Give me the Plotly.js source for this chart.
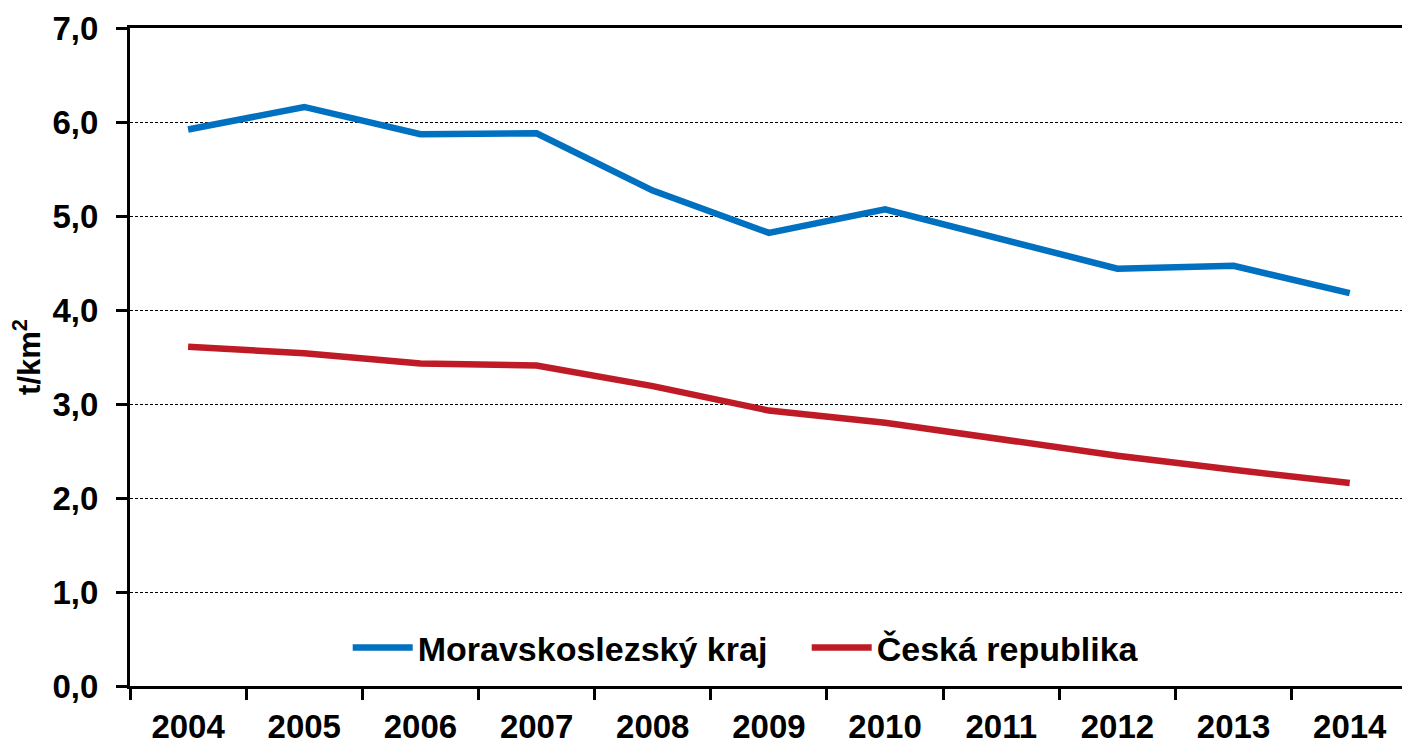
<!DOCTYPE html>
<html>
<head>
<meta charset="utf-8">
<script src="https://cdn.plot.ly/plotly-3.0.1.min.js"></script>
<style>html,body{margin:0;padding:0;background:#fff;}#chart{width:1402px;height:746px;}</style>
</head>
<body>
<div id="chart"></div>
<script>
var years = ["2004","2005","2006","2007","2008","2009","2010","2011","2012","2013","2014"];
var moravskoslezsky = [5.92, 6.16, 5.87, 5.88, 5.27, 4.82, 5.07, 4.75, 4.44, 4.47, 4.18];
var ceskaRepublika = [3.61, 3.54, 3.43, 3.41, 3.19, 2.93, 2.80, 2.62, 2.45, 2.30, 2.16];
var seriesNames = ["Moravskoslezský kraj", "Česká republika"];
var yTitle = "t/km<sup>2</sup>";

var font = "Liberation Sans, Arial, sans-serif";
var traces = [
  {x: years, y: moravskoslezsky, name: seriesNames[0], type: "scatter", mode: "lines",
   line: {color: "#0070C0", width: 6.5}},
  {x: years, y: ceskaRepublika, name: seriesNames[1], type: "scatter", mode: "lines",
   line: {color: "#BF1B26", width: 6.5}}
];
var layout = {
  width: 1402, height: 746,
  margin: {l: 130, r: 0, t: 28, b: 60},
  paper_bgcolor: "#fff", plot_bgcolor: "#fff",
  separators: ", ",
  font: {family: font, color: "#000", size: 33, weight: "bold"},
  showlegend: true,
  legend: {orientation: "h", x: 0.532, y: 0.058, xanchor: "center", yanchor: "middle",
           bgcolor: "rgba(0,0,0,0)", font: {family: font, size: 34, weight: "bold", color: "#000"},
           itemwidth: 60, traceorder: "normal", entrywidth: 384},
  xaxis: {type: "category", range: [-0.5, 10.45], showgrid: false, zeroline: false,
          showline: true, linecolor: "#000", linewidth: 3, mirror: true,
          ticks: "outside", ticklen: 11, tickwidth: 3, tickcolor: "#000", tickson: "boundaries",
          tickfont: {family: font, size: 33, weight: "bold", color: "#000"}, ticklabelstandoff: 9},
  yaxis: {range: [0, 7], dtick: 1, tick0: 0, tickformat: ".1f",
          showgrid: true, gridcolor: "#000", gridwidth: 1, griddash: "3px,2px",
          zeroline: false, showline: true, linecolor: "#000", linewidth: 3,
          ticks: "outside", ticklen: 11, tickwidth: 3, tickcolor: "#000",
          tickfont: {family: font, size: 33, weight: "bold", color: "#000"}, ticklabelstandoff: 11,
          title: {text: yTitle, font: {family: font, size: 31, weight: "bold", color: "#000"}, standoff: 3}}
};
Plotly.newPlot("chart", traces, layout, {displayModeBar: false, staticPlot: true});
</script>
</body>
</html>
